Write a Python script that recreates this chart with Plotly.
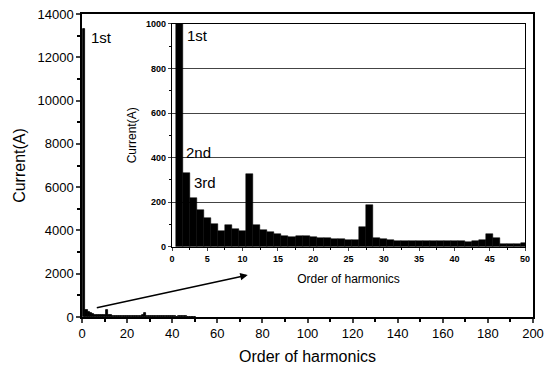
import plotly.graph_objects as go

# Harmonic orders and measured currents (A)
harmonics = list(range(1, 51))
current = [13300, 332, 220, 165, 127, 102, 72, 96, 78, 72,
           325, 99, 75, 64, 57, 49, 42, 46, 48, 42,
           39, 37, 34, 33, 30, 28, 90, 187, 37, 33,
           30, 27, 26, 25, 25, 25, 25, 24, 24, 25,
           24, 23, 24, 30, 55, 39, 13, 13, 13, 15]

main_xticks = [0, 20, 40, 60, 80, 100, 120, 140, 160, 180, 200]
main_yticks = [0, 2000, 4000, 6000, 8000, 10000, 12000, 14000]
inset_xticks = [0, 5, 10, 15, 20, 25, 30, 35, 40, 45, 50]
inset_yticks = [0, 200, 400, 600, 800, 1000]

FONT = "'Liberation Sans', Arial, sans-serif"

fig = go.Figure()
fig.add_trace(go.Bar(x=harmonics, y=current, width=1,
                     marker=dict(color="black", line=dict(color="black", width=0.8)),
                     xaxis="x", yaxis="y", showlegend=False))
fig.add_trace(go.Bar(x=harmonics, y=current, width=1,
                     marker=dict(color="black", line=dict(color="black", width=0.5)),
                     xaxis="x2", yaxis="y2", showlegend=False))

fig.update_layout(
    width=547, height=365,
    margin=dict(l=82, r=14, t=14, b=48),
    paper_bgcolor="white", plot_bgcolor="white",
    font=dict(family=FONT, color="black"),
    bargap=0,
    xaxis=dict(range=[0, 200], tickvals=main_xticks, tickformat="d", ticks="outside", ticklen=4,
               tickwidth=1.5, showline=True, linewidth=1.5, linecolor="black",
               mirror=True, showgrid=False, zeroline=False, automargin=False,
               tickfont=dict(size=13, family=FONT),
               minor=dict(dtick=10, ticks="outside", ticklen=3, tickcolor="black"),
               title=dict(text="Order of harmonics", font=dict(size=16, family=FONT), standoff=13)),
    yaxis=dict(range=[0, 14000], tickvals=main_yticks, tickformat="d", ticks="outside", ticklen=4,
               tickwidth=1.5, showline=True, linewidth=1.5, linecolor="black",
               mirror=True, showgrid=False, zeroline=False, automargin=False,
               tickfont=dict(size=13, family=FONT),
               minor=dict(dtick=1000, ticks="outside", ticklen=3, tickcolor="black"),
               title=dict(text="Current(A)", font=dict(size=16, family=FONT), standoff=8)),
    xaxis2=dict(domain=[0.1996, 0.9823], anchor="y2", range=[0, 50],
                tickvals=inset_xticks, tickformat="d", ticks="outside", ticklen=3,
                showline=True, linewidth=1.2, linecolor="black", mirror=True,
                showgrid=False, zeroline=False, automargin=False,
                tickfont=dict(size=9, weight="bold", family=FONT),
                minor=dict(dtick=2.5, ticks="outside", ticklen=2, tickcolor="black"),
                title=dict(text="Order of harmonics", font=dict(size=12, family=FONT), standoff=11)),
    yaxis2=dict(domain=[0.232, 0.967], anchor="x2", range=[0, 1000],
                tickvals=inset_yticks, tickformat="d", ticks="outside", ticklen=3,
                showline=True, linewidth=1.2, linecolor="black", mirror=True,
                showgrid=True, gridcolor="#444444", gridwidth=0.8, zeroline=False,
                automargin=False,
                tickfont=dict(size=9, weight="bold", family=FONT),
                minor=dict(dtick=100, ticks="outside", ticklen=2, tickcolor="black"),
                title=dict(text="Current(A)", font=dict(size=12, family=FONT), standoff=6)),
    annotations=[
        dict(x=8.6, y=12937, xref="x", yref="y", text="1st", showarrow=False,
             font=dict(size=15, family=FONT)),
        dict(x=3.6, y=950, xref="x2", yref="y2", text="1st", showarrow=False,
             font=dict(size=15, family=FONT)),
        dict(x=3.7, y=425, xref="x2", yref="y2", text="2nd", showarrow=False,
             font=dict(size=15, family=FONT)),
        dict(x=4.7, y=290, xref="x2", yref="y2", text="3rd", showarrow=False,
             font=dict(size=15, family=FONT)),
        dict(x=73.5, y=1940, ax=5.9, ay=416, xref="x", yref="y",
             axref="x", ayref="y", text="", showarrow=True,
             arrowhead=2, arrowsize=1, arrowwidth=1.5, arrowcolor="black"),
    ],
)

fig.write_html("out.html")
